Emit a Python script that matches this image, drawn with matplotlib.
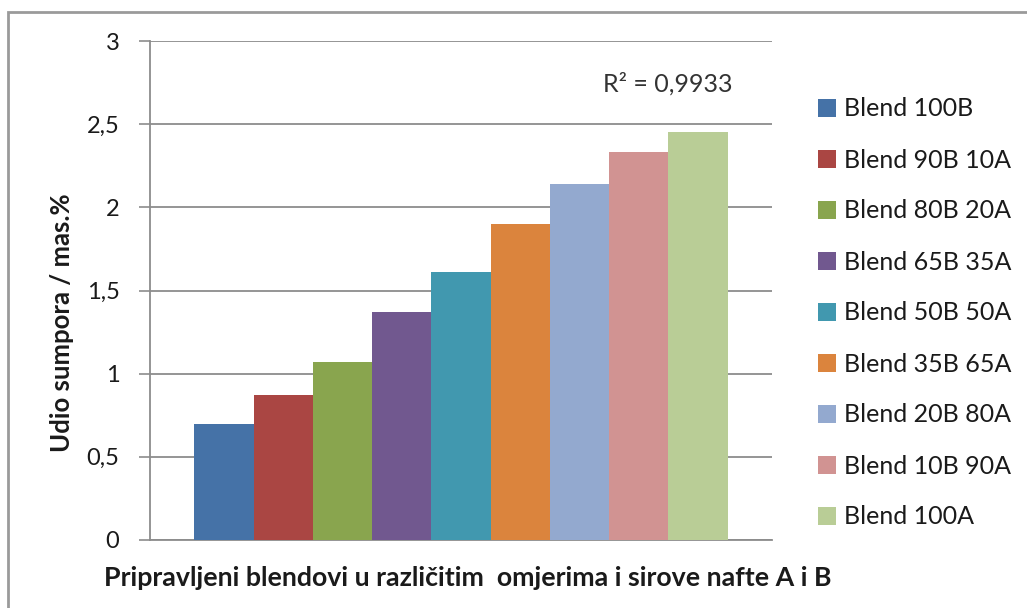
import matplotlib.pyplot as plt
from matplotlib.patches import Rectangle
import numpy as np

# data
blends = ['Blend 100B', 'Blend 90B 10A', 'Blend 80B 20A', 'Blend 65B 35A',
          'Blend 50B 50A', 'Blend 35B 65A', 'Blend 20B 80A', 'Blend 10B 90A',
          'Blend 100A']
sulphur = [0.70, 0.87, 1.07, 1.37, 1.61, 1.90, 2.14, 2.33, 2.45]
colors = ['#4572A7', '#AA4643', '#89A54E', '#71588F', '#4198AF',
          '#DB843D', '#93A9CF', '#D19392', '#B9CD96']
y_ticks = [0, 0.5, 1, 1.5, 2, 2.5, 3]
y_tick_labels = ['0', '0,5', '1', '1,5', '2', '2,5', '3']
r2_text = 'R\u00b2 = 0,9933'

plt.rcParams['font.family'] = ['Lato', 'DejaVu Sans']
text_col = '#1a1a1a'
grid_col = '#8c8c8c'

fig = plt.figure(figsize=(10.27, 6.08), dpi=100)
ax = fig.add_axes([150 / 1027, 1 - 540 / 608, 622 / 1027, 499 / 608])

n = len(blends)
pos = np.arange(n) - (n - 1) / 2
for p, v, c, name in zip(pos, sulphur, colors, blends):
    ax.bar(p, v, width=1.0, color=c, label=name, zorder=3)

ax.set_xlim(-5.25, 5.25)
ax.set_ylim(0, 3)
ax.set_xticks([])
ax.set_yticks(y_ticks)
ax.set_yticklabels(y_tick_labels)
ax.tick_params(axis='y', length=8, width=1.2, color=grid_col, pad=14,
               labelsize=17, labelcolor=text_col)
ax.grid(axis='y', color=grid_col, linewidth=1.3, zorder=0)
for side in ['top', 'right']:
    ax.spines[side].set_visible(False)
ax.spines['left'].set_color(grid_col)
ax.spines['left'].set_linewidth(1.3)
ax.spines['bottom'].set_color(grid_col)
ax.spines['bottom'].set_linewidth(1.3)

ax.text(3.49, 2.74, r2_text, ha='center', va='center', fontsize=18,
        color='#333333')

fig.text(62 / 1027, 1 - 323 / 608, 'Udio sumpora / mas.%', rotation=90,
         ha='center', va='center', fontsize=18.5, fontweight='bold',
         color=text_col)
fig.text(468 / 1027, 1 - 578 / 608,
         'Pripravljeni blendovi u različitim  omjerima i sirove nafte A i B',
         ha='center', va='center', fontsize=19.3, fontweight='bold',
         color=text_col)

fig.legend(loc='center left', bbox_to_anchor=(818 / 1027, 1 - 313 / 608),
           frameon=False, fontsize=18, labelspacing=1.12, handlelength=0.7,
           handleheight=0.7, handletextpad=0.35, borderpad=0, borderaxespad=0,
           labelcolor=text_col)

# outer chart border (right and bottom edges are cut off in the reference)
fig.add_artist(Rectangle((8 / 1027, -0.1), 1.2, 1.1 - 12 / 608,
                         transform=fig.transFigure, fill=False,
                         edgecolor='#9a9a9a', linewidth=2))

fig.savefig('out.png', dpi=100)
